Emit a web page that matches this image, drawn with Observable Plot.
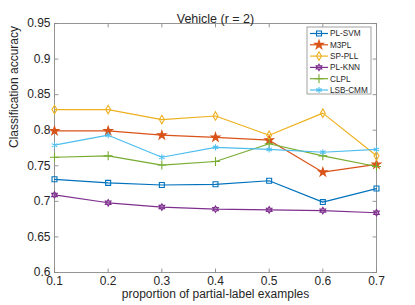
<!DOCTYPE html>
<html>
<head>
<meta charset="utf-8">
<script src="https://cdn.jsdelivr.net/npm/d3@7"></script>
<script src="https://cdn.jsdelivr.net/npm/@observablehq/plot@0.6"></script>
<style>
  html, body { margin: 0; padding: 0; background: white; }
  #chart { position: relative; width: 415px; height: 305px; }
</style>
</head>
<body>
<div id="chart"></div>
<script>
// ---- data ----
const proportions = [0.1, 0.2, 0.3, 0.4, 0.5, 0.6, 0.7];
const plSvm  = [0.731, 0.726, 0.723, 0.724, 0.729, 0.699, 0.718];
const m3pl   = [0.799, 0.799, 0.793, 0.790, 0.786, 0.741, 0.752];
const spPll  = [0.829, 0.829, 0.815, 0.820, 0.793, 0.824, 0.764];
const plKnn  = [0.709, 0.698, 0.692, 0.689, 0.688, 0.687, 0.684];
const clpl   = [0.762, 0.764, 0.751, 0.756, 0.781, 0.764, 0.749];
const lsbCmm = [0.779, 0.793, 0.762, 0.776, 0.773, 0.769, 0.773];
const seriesNames = ["PL-SVM", "M3PL", "SP-PLL", "PL-KNN", "CLPL", "LSB-CMM"];
const xTicks = [0.1, 0.2, 0.3, 0.4, 0.5, 0.6, 0.7];
const yTicks = [0.6, 0.65, 0.7, 0.75, 0.8, 0.85, 0.9, 0.95];
const titleText = "Vehicle (r = 2)";
const xLabel = "proportion of partial-label examples";
const yLabel = "Classification accuracy";

// ---- styles ----
const colors = ["#0072BD", "#D95319", "#EDB120", "#7E2F8E", "#77AC30", "#4DBEEE"];
const hexagram = {
  draw(ctx, size) {
    const R = Math.sqrt(size / Math.PI) * 1.3, r = R / Math.sqrt(3);
    for (let i = 0; i < 12; i++) {
      const a = i * Math.PI / 6 - Math.PI / 2, rr = i % 2 ? r : R;
      const x = rr * Math.cos(a), y = rr * Math.sin(a);
      i ? ctx.lineTo(x, y) : ctx.moveTo(x, y);
    }
    ctx.closePath();
  }
};
const symbols = ["square", "star", "diamond", hexagram, "plus", "asterisk"];
const symbolR = [2.8, 2.7, 2.6, 2.5, 3.0, 2.9];
const symbolFillOpacity = [0, 1, 0, 0.45, 0, 0];
const allValues = [plSvm, m3pl, spPll, plKnn, clpl, lsbCmm];

const rows = [];
allValues.forEach((vals, s) => vals.forEach((v, i) => rows.push({series: seriesNames[s], x: proportions[i], y: vals[i]})));

const textColor = "#262626";
const frameColor = "#8a8a8a";
const tickShape = {draw(ctx, l) { ctx.moveTo(0, 0); ctx.lineTo(0, -l); }};

const seriesMarks = [];
seriesNames.forEach((name, s) => {
  const data = rows.filter(d => d.series === name);
  seriesMarks.push(Plot.line(data, {x: "x", y: "y", stroke: colors[s], strokeWidth: 1.2}));
  seriesMarks.push(Plot.dot(data, {x: "x", y: "y", symbol: symbols[s], r: symbolR[s], stroke: colors[s],
    fill: symbolFillOpacity[s] > 0 ? colors[s] : "none", fillOpacity: symbolFillOpacity[s], strokeWidth: 1.1}));
});

const chart = Plot.plot({
  width: 415,
  height: 305,
  marginLeft: 54,
  marginRight: 39,
  marginTop: 23,
  marginBottom: 33,
  style: {fontFamily: "'Liberation Sans', Arial, sans-serif", fontSize: "12px", color: textColor, background: "white"},
  x: {domain: [0.1, 0.7], label: null},
  y: {domain: [0.6, 0.95], label: null},
  marks: [
    Plot.frame({stroke: frameColor, strokeWidth: 0.9}),
    Plot.vector(xTicks, {x: d => d, frameAnchor: "bottom", length: 3.5, rotate: 0, anchor: "start", shape: tickShape, stroke: frameColor, strokeWidth: 0.9}),
    Plot.vector(xTicks, {x: d => d, frameAnchor: "top", length: 3.5, rotate: 180, anchor: "start", shape: tickShape, stroke: frameColor, strokeWidth: 0.9}),
    Plot.vector(yTicks, {y: d => d, frameAnchor: "left", length: 3.5, rotate: 90, anchor: "start", shape: tickShape, stroke: frameColor, strokeWidth: 0.9}),
    Plot.vector(yTicks, {y: d => d, frameAnchor: "right", length: 3.5, rotate: 270, anchor: "start", shape: tickShape, stroke: frameColor, strokeWidth: 0.9}),
    Plot.axisX({ticks: xTicks, tickSize: 0, tickPadding: 4, tickFormat: d => d.toFixed(1), label: null, fontSize: 12}),
    Plot.axisY({ticks: yTicks, tickSize: 0, tickPadding: 4, tickFormat: d => String(+d.toFixed(2)), label: null, fontSize: 12}),
    ...seriesMarks,
    Plot.text([titleText], {frameAnchor: "top", dy: -9, text: d => d, fontSize: 12.5, fill: textColor}),
    Plot.text([xLabel], {frameAnchor: "bottom", dy: 25.5, text: d => d, fontSize: 12, fill: textColor}),
    Plot.text([yLabel], {frameAnchor: "left", dx: -40, rotate: -90, text: d => d, fontSize: 12, fill: textColor})
  ]
});
document.getElementById("chart").appendChild(chart);

// ---- legend (inside the axes, top right) ----
const svg = d3.select(chart);
const lg = svg.append("g").attr("class", "legend")
  .attr("font-family", "'Liberation Sans', Arial, sans-serif").attr("font-size", 8.2)
  .attr("text-anchor", "start");
const lx = 307, ly = 27, lw = 64, lh = 67, rowH = 11.3;
lg.append("rect").attr("x", lx).attr("y", ly).attr("width", lw).attr("height", lh)
  .attr("fill", "white").attr("stroke", frameColor).attr("stroke-width", 0.8);
const symMap = {square: d3.symbolSquare, star: d3.symbolStar, diamond: d3.symbolDiamond, plus: d3.symbolPlus, asterisk: d3.symbolAsterisk};
seriesNames.forEach((name, s) => {
  const yy = ly + 6.5 + s * rowH;
  lg.append("line").attr("x1", lx + 3).attr("x2", lx + 21).attr("y1", yy).attr("y2", yy)
    .attr("stroke", colors[s]).attr("stroke-width", 1.2);
  const sym = typeof symbols[s] === "string" ? symMap[symbols[s]] : symbols[s];
  const r = symbolR[s];
  lg.append("path").attr("d", d3.symbol(sym, Math.PI * r * r)())
    .attr("transform", `translate(${lx + 12},${yy})`)
    .attr("fill", symbolFillOpacity[s] > 0 ? colors[s] : "none").attr("fill-opacity", symbolFillOpacity[s])
    .attr("stroke", colors[s]).attr("stroke-width", 1.1);
  lg.append("text").attr("x", lx + 23).attr("y", yy).attr("dy", "0.35em")
    .attr("text-anchor", "start").attr("fill", textColor).text(name);
});
</script>
</body>
</html>
